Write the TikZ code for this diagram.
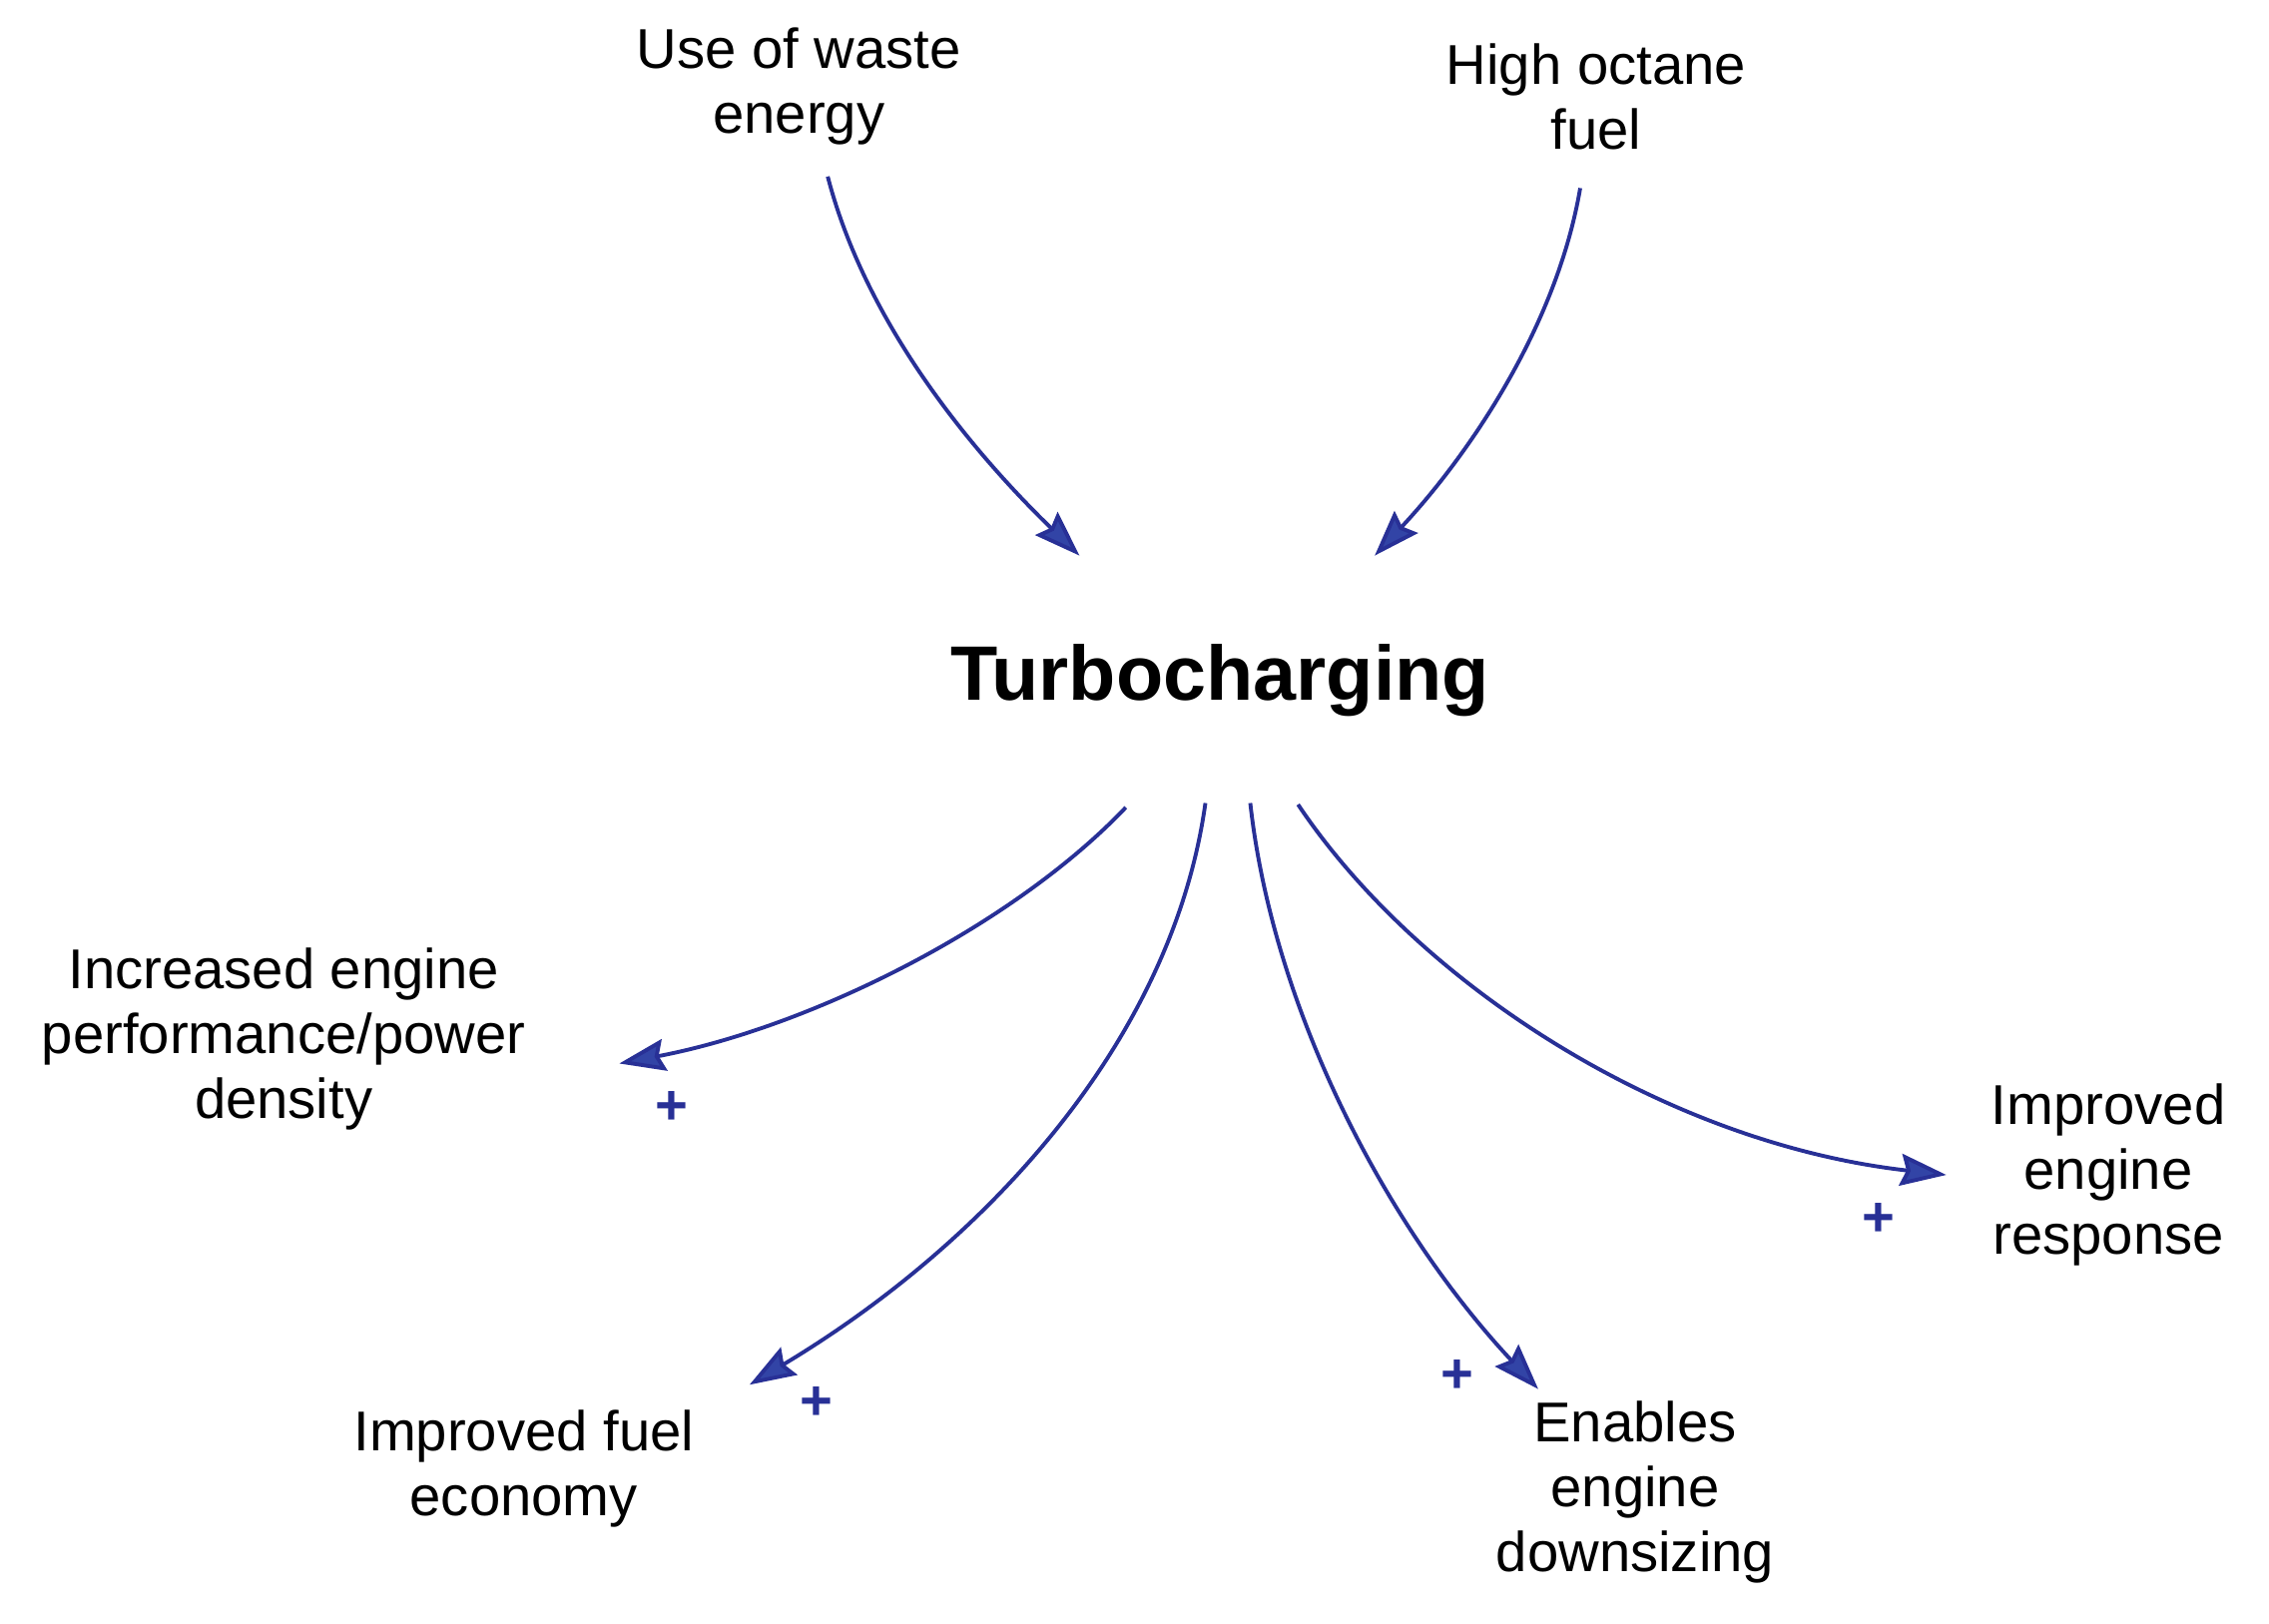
\documentclass[tikz,border=0pt]{standalone}
\usepackage{fontspec}
\setmainfont{Liberation Sans}
\usetikzlibrary{arrows.meta}

\definecolor{linkblue}{RGB}{40,48,150}
\definecolor{tipblue}{RGB}{50,68,166}

\tikzset{
    factor/.style={align=center, inner sep=2pt, font=\fontsize{16}{18.5}\selectfont},
    hub/.style={inner sep=2pt, font=\bfseries\fontsize{22}{26}\selectfont},
    link/.style={draw=linkblue, line width=1.1pt,
        -{Stealth[length=4.6mm, width=3.2mm, inset=0.6mm, fill=tipblue]}},
    sign/.style={text=linkblue, inner sep=0pt, font=\bfseries\fontsize{16}{18}\selectfont}
}

\begin{document}
\begin{tikzpicture}[x=0.014496cm, y=-0.014496cm]
        \useasboundingbox (0,0) rectangle (1568,1122);

        % factors and the hub
        \node[hub] (turbo) at (843,470) {Turbocharging};
        \node[factor] (waste) at (552,60) {Use of waste\\energy};
        \node[factor] (octane) at (1103,67) {High octane\\fuel};
        \node[factor] (perf) at (196,718) {Increased engine\\performance/power\\density};
        \node[factor] (fuel) at (362,1015) {Improved fuel\\economy};
        \node[factor] (downsize) at (1130,1031) {Enables\\engine\\downsizing};
        \node[factor] (response) at (1457,812) {Improved\\engine\\response};

        % inputs
        \draw[link] ([shift={(20,62)}]waste.center) .. controls (600,230) and (680,320) .. ([shift={(-97,-86)}]turbo.center);
        \draw[link] ([shift={(-11,63)}]octane.center) .. controls (1075,230) and (1010,320) .. ([shift={(107,-86)}]turbo.center);

        % outputs
        \draw[link] ([shift={(-65,88)}]turbo.center) .. controls (700,640) and (560,710) .. ([shift={(232,17)}]perf.center);
        \draw[link] ([shift={(-10,85)}]turbo.center) .. controls (810,720) and (680,860) .. ([shift={(156,-58)}]fuel.center);
        \draw[link] ([shift={(21,85)}]turbo.center) .. controls (880,700) and (960,850) .. ([shift={(-67,-71)}]downsize.center);
        \draw[link] ([shift={(54,86)}]turbo.center) .. controls (980,680) and (1150,790) .. ([shift={(-112,0)}]response.center);

        % polarity
        \node[sign] (plus1) at (464,766) {+};
        \node[sign] (plus2) at (564,970) {+};
        \node[sign] (plus3) at (1007,951) {+};
        \node[sign] (plus4) at (1298,843) {+};
\end{tikzpicture}
\end{document}
